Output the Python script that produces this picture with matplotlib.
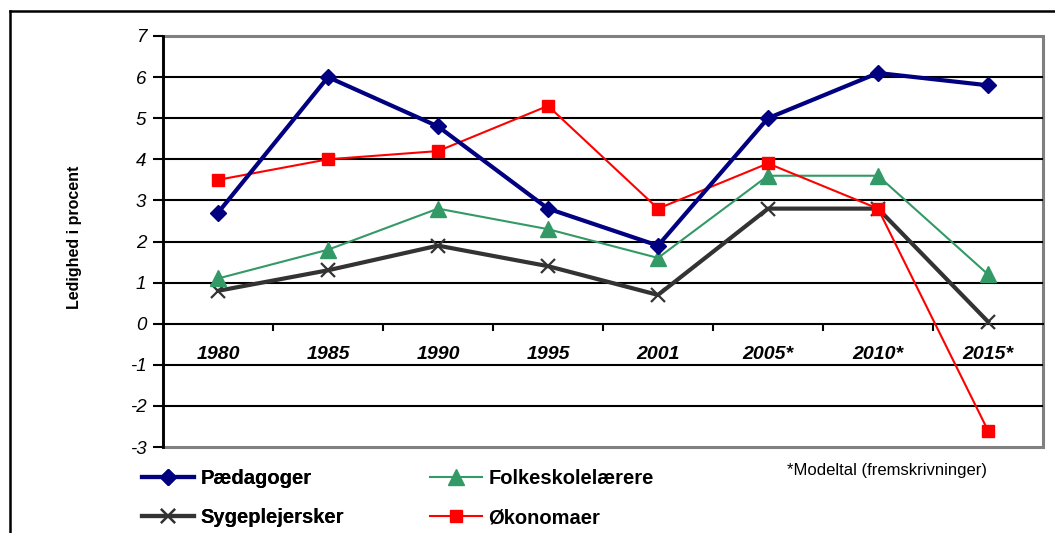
import matplotlib
matplotlib.use("Agg")
import matplotlib.pyplot as plt
from matplotlib.lines import Line2D
from matplotlib.patches import Rectangle

plt.rcParams['font.family'] = ['Liberation Sans', 'DejaVu Sans']
plt.rcParams['axes.unicode_minus'] = False

categories = ["1980", "1985", "1990", "1995", "2001", "2005*", "2010*", "2015*"]
paedagoger = [2.7, 6.0, 4.8, 2.8, 1.9, 5.0, 6.1, 5.8]
folkeskolelaerere = [1.1, 1.8, 2.8, 2.3, 1.6, 3.6, 3.6, 1.2]
sygeplejersker = [0.8, 1.3, 1.9, 1.4, 0.7, 2.8, 2.8, 0.05]
okonomaer = [3.5, 4.0, 4.2, 5.3, 2.8, 3.9, 2.8, -2.6]
yticks = list(range(-3, 8))

W, H = 1055, 533
fig = plt.figure(figsize=(W / 100, H / 100), dpi=100)
ax = fig.add_axes([163 / W, 1 - 447 / H, (1043 - 163) / W, (447 - 36) / H])

x = list(range(len(categories)))

# gridlines (black) at inner integer values
for v in yticks[1:-1]:
    if v != 0:
        ax.axhline(v, color='black', lw=1.5, zorder=1)

l_syg, = ax.plot(x, sygeplejersker, color='#333333', lw=3, marker='x', ms=10, mew=1.6,
                 mec='#333333', zorder=3, label='Sygeplejersker')
l_folk, = ax.plot(x, folkeskolelaerere, color='#339966', lw=1.5, marker='^', ms=11,
                  mfc='#339966', mec='#339966', zorder=4, label='Folkeskolelærere')
l_oko, = ax.plot(x, okonomaer, color='#FF0000', lw=1.5, marker='s', ms=8.5,
                 mfc='#FF0000', mec='#FF0000', zorder=5, label='Økonomaer')
l_paed, = ax.plot(x, paedagoger, color='#000080', lw=3, marker='D', ms=8.5,
                  mfc='#000080', mec='#000080', zorder=6, label='Pædagoger')

ax.set_xlim(-0.5, len(categories) - 0.5)
ax.set_ylim(-3, 7)

# spines
for s in ['top', 'right']:
    ax.spines[s].set_visible(False)
ax.spines['bottom'].set_position(('data', 0))
ax.spines['bottom'].set_color('black')
ax.spines['bottom'].set_linewidth(1.5)
ax.spines['bottom'].set_zorder(2)
ax.spines['left'].set_color('black')
ax.spines['left'].set_linewidth(2)
ax.spines['left'].set_zorder(7)

# grey frame top/right/bottom
ax.add_patch(Rectangle((0, 0), 1, 1, transform=ax.transAxes, fill=False,
                       edgecolor='#808080', lw=2.2, zorder=0.5, clip_on=False))

ax.set_yticks(yticks)
ax.set_yticklabels([str(v) for v in yticks], fontsize=13.5, style='italic')
ax.tick_params(axis='y', direction='out', length=7, width=1.5, pad=5)

ax.set_xticks(x)
ax.set_xticklabels(categories, fontsize=14, style='italic', fontweight='bold')
ax.set_xticks([i + 0.5 for i in x[:-1]], minor=True)
ax.tick_params(axis='x', which='major', length=0, pad=16)
ax.tick_params(axis='x', which='minor', direction='out', length=5, width=1.5, color='black')

fig.text(75 / W, 1 - 237 / H, 'Ledighed i procent', rotation=90, fontsize=11.5,
         fontweight='bold', ha='center', va='center')

leg_kw = dict(loc='upper left', frameon=False, prop={'size': 14.5, 'weight': 'bold'},
              handlelength=2.6, handletextpad=0.3, labelspacing=1.0, borderpad=0)
leg1 = fig.legend(handles=[l_paed, l_syg], bbox_to_anchor=(132 / W, 1 - 459 / H), **leg_kw)
leg2 = fig.legend(handles=[l_folk, l_oko], bbox_to_anchor=(420 / W, 1 - 459 / H), **leg_kw)
fig.add_artist(leg1)

fig.text(787 / W, 1 - 470 / H, '*Modeltal (fremskrivninger)', fontsize=12,
         ha='left', va='center')

# outer frame
fig.add_artist(Line2D([10 / W, 10 / W], [0, 1 - 11 / H], transform=fig.transFigure,
                      color='black', lw=1.8))
fig.add_artist(Line2D([10 / W, 1], [1 - 11 / H, 1 - 11 / H], transform=fig.transFigure,
                      color='black', lw=1.8))

fig.savefig('out.png', dpi=100)
